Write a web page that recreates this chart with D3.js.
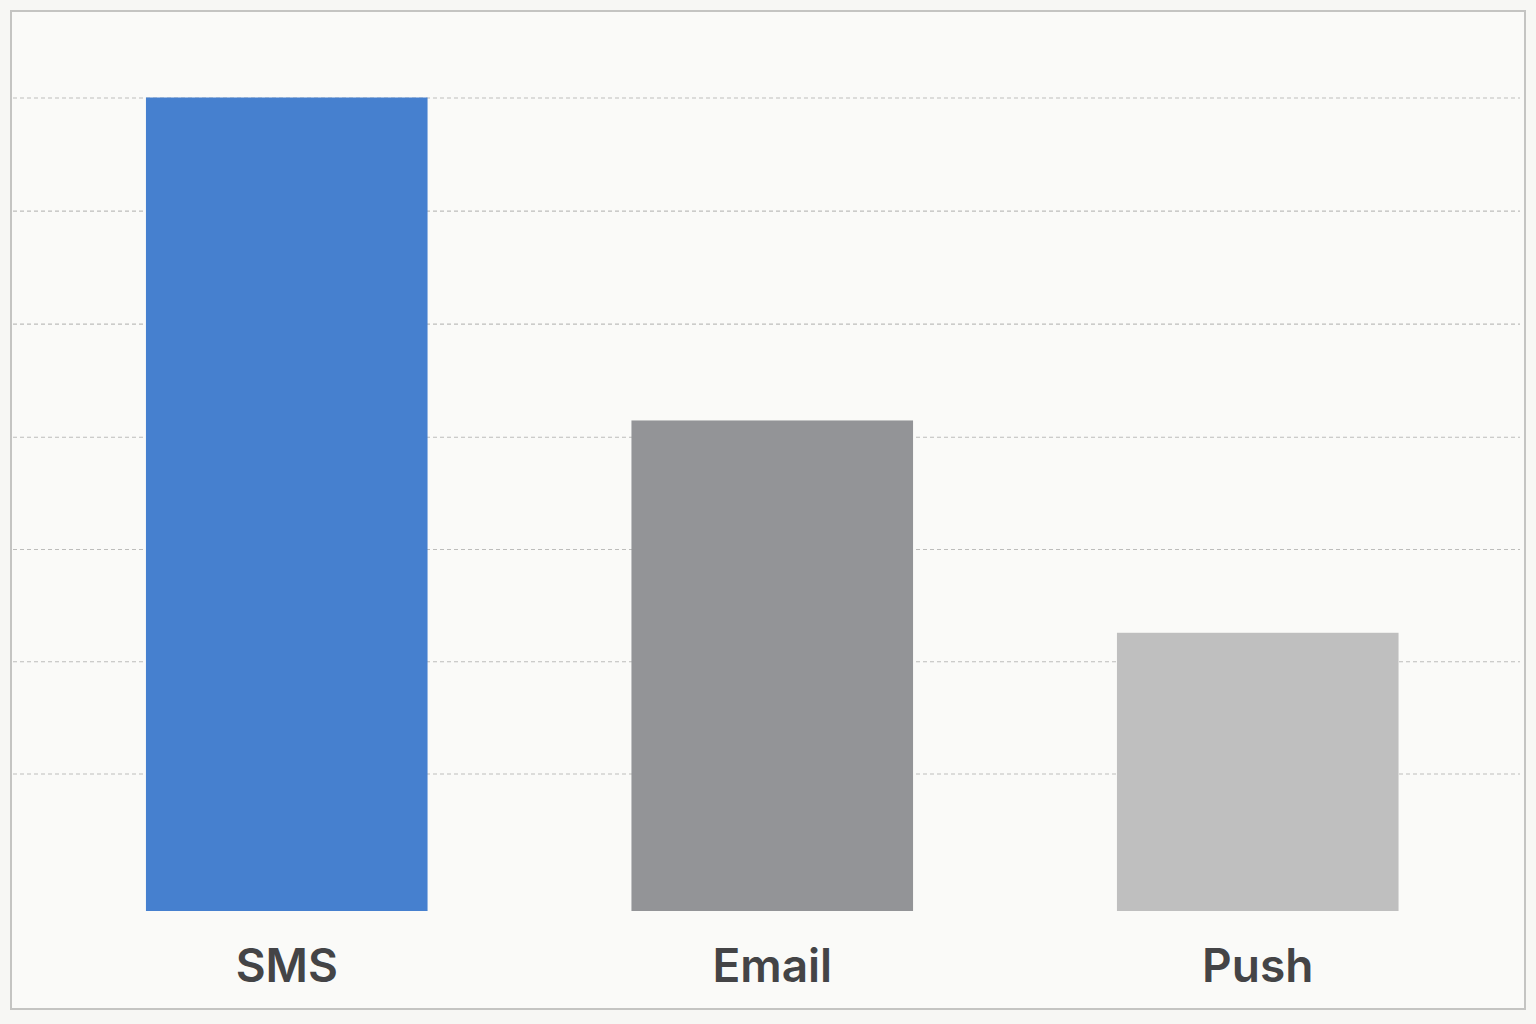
<!DOCTYPE html>
<html>
<head>
<meta charset="utf-8">
<script src="https://cdn.jsdelivr.net/npm/d3@7"></script>
<style>
  html, body { margin: 0; padding: 0; background: #f7f7f4; }
  svg { display: block; }
</style>
</head>
<body>
<div id="chart"></div>
<script>
// values (no axis labels, SMS = 100)
const categories = ["SMS", "Email", "Push"];
const values = [100, 60.3, 34.2];
const barColors = ["#4680cf", "#939497", "#bfbfbf"];
const gridTicks = [100, 86.1, 72.2, 58.3, 44.5, 30.7, 16.9];

let width = 1536;
let height = 1024;

let svg = d3.select("#chart").append("svg")
    .attr("width", width)
    .attr("height", height);

// frame
svg.append("rect")
    .attr("x", 11).attr("y", 11)
    .attr("width", 1514).attr("height", 998)
    .attr("fill", "#fafaf8")
    .attr("stroke", "#c4c4c2")
    .attr("stroke-width", 2);

let x = d3.scaleBand()
    .domain(categories)
    .range([44, 1500.5])
    .paddingInner(0.42)
    .paddingOuter(0.21);

let y = d3.scaleLinear()
    .domain([0, 100])
    .range([911, 97.5]);

let color = d3.scaleOrdinal()
    .domain(categories)
    .range(barColors);

// dashed gridlines
let grid = svg.append("g")
    .attr("transform", "translate(13,0)")
    .call(d3.axisLeft(y).tickValues(gridTicks).tickSize(-1507).tickFormat(""));
grid.select(".domain").remove();
grid.selectAll(".tick line")
    .attr("stroke", "#bdbdbb")
    .attr("stroke-width", 1.2)
    .attr("stroke-dasharray", "4,3");

// bars
svg.append("g").selectAll("rect")
    .data(categories)
    .join("rect")
    .attr("x", d => x(d))
    .attr("y", (d, i) => y(values[i]))
    .attr("width", x.bandwidth())
    .attr("height", (d, i) => y(0) - y(values[i]))
    .attr("fill", d => color(d));

// category labels
let xAxis = svg.append("g")
    .attr("transform", "translate(0,911)")
    .call(d3.axisBottom(x).tickSize(0).tickPadding(38));
xAxis.select(".domain").remove();
xAxis.selectAll("text")
    .attr("fill", "#444446")
    .style("font-family", "Inter, 'Noto Sans', sans-serif")
    .style("font-size", "46px")
    .style("font-weight", "600");
</script>
</body>
</html>
